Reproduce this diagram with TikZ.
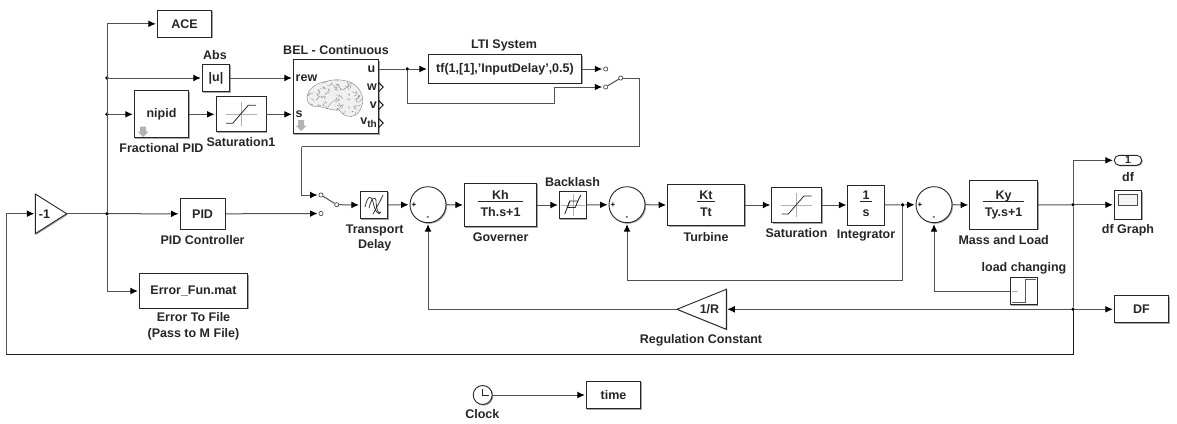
\documentclass[tikz,border=0pt]{standalone}
\usepackage{fontspec}
\setmainfont{Liberation Sans}
\usetikzlibrary{arrows.meta,shadows,calc}
\tikzset{
  txt/.style={font=\fontsize{12.5}{15}\selectfont\bfseries,text=black!85},
  blk/.style={draw=black!85,line width=.9pt,fill=white,inner sep=0pt,txt,
    general shadow={fill=black!35,shadow xshift=1.1pt,shadow yshift=-1.1pt}},
  lbl/.style={inner sep=0pt,align=center,txt},
  sumb/.style={blk,circle,minimum size=36pt},
  triline/.style={draw=black!85,line width=.9pt,fill=white,line join=miter},
  trishadow/.style={fill=black!35,draw=none},
  dotj/.style={circle,fill=black,inner sep=0pt,minimum size=3.8pt},
  port/.style={circle,draw=black!70,fill=white,inner sep=0pt,minimum size=4.2pt,line width=.7pt},
  conn/.style={draw=black!68,line width=1pt},
  ar/.style={conn,-{Latex[length=7.5pt,width=6.8pt,black]},shorten >=1pt},
  grayx/.style={draw=black!30,line width=.6pt},
  icon/.style={draw=black!85,line width=.8pt},
  sgn/.style={inner sep=0pt,font=\fontsize{8}{8}\selectfont\bfseries},
  grayarrow/.style={fill=black!30,draw=none}
}
\newcommand{\frc}[2]{\begin{tabular}{@{\,}c@{\,}}\rule{0pt}{10pt}#1\\[-2.5pt]\hline\rule{0pt}{15pt}#2\end{tabular}}
\begin{document}
\begin{tikzpicture}[x=1pt,y=-1pt]
\useasboundingbox[fill=white] (0,0) rectangle (1177,423);

% blocks
\node[blk,minimum width=54.4pt,minimum height=27pt] (ace) at (184.5,23.8) {ACE};
\node[blk,minimum width=27.5pt,minimum height=27.5pt] (absb) at (216,78) {|u|};
\node[blk,minimum width=54.5pt,minimum height=47pt] (nip) at (161.5,114.3) {nipid};
\node[blk,minimum width=50pt,minimum height=35pt] (sat1) at (241,114.3) {};
\node[blk,minimum width=85.5pt,minimum height=74pt] (bel) at (336,96.5) {};
\node[blk,minimum width=153.4pt,minimum height=28.7pt] (lti) at (505,69) {tf(1,[1],'InputDelay',0.5)};
\fill[trishadow] (36.4,195.1) -- (67.8,214.8) -- (36.4,234.8) -- cycle;
\draw[triline] (35.3,194) -- (66.7,213.7) -- (35.3,233.7) -- cycle;
\coordinate (gainin) at (35.3,213.7);
\coordinate (gainout) at (66.7,213.7);
\node[lbl] (gaint) at (44.5,214) {-1};
\node[blk,minimum width=45.3pt,minimum height=31pt] (pid) at (202.6,213.8) {PID};
\node[blk,minimum width=108.4pt,minimum height=34.6pt] (err) at (193.5,291) {Error\_Fun.mat};
\node[blk,minimum width=27.3pt,minimum height=27.3pt] (td) at (374,205) {};
\node[sumb] (sum1) at (428,204.7) {};
\node[blk,minimum width=72.4pt,minimum height=43.4pt] (gov) at (500.5,205) {\frc{Kh}{Th.s+1}};
\node[blk,minimum width=27pt,minimum height=27.3pt] (back) at (572.8,205) {};
\node[sumb] (sum2) at (627,204.7) {};
\node[blk,minimum width=77pt,minimum height=41.4pt] (turb) at (706,205) {\frc{Kt}{Tt}};
\node[blk,minimum width=49.7pt,minimum height=35pt] (sat) at (796.6,205) {};
\node[blk,minimum width=36.3pt,minimum height=40pt] (intg) at (866,205) {\frc{1}{s}};
\node[sumb] (sum3) at (934,204.7) {};
\node[blk,minimum width=68pt,minimum height=48.6pt] (mass) at (1003.6,205) {\frc{Ky}{Ty.s+1}};
\node[blk,rounded corners=5pt,minimum width=27.4pt,minimum height=10pt,font=\fontsize{10.5}{10.5}\selectfont\bfseries] (dfout) at (1128,160.3) {1};
\node[blk,minimum width=27.4pt,minimum height=28.3pt] (scope) at (1128,204.8) {};
\node[blk,minimum width=54.4pt,minimum height=27pt] (dfb) at (1141.5,309.3) {DF};
\node[blk,minimum width=27pt,minimum height=27.4pt] (stepb) at (1023.8,291) {};
\fill[trishadow] (678.1,310.4) -- (727.4,290.4) -- (727.4,330.4) -- cycle;
\draw[triline] (677,309.3) -- (726.3,289.3) -- (726.3,329.3) -- cycle;
\coordinate (regin) at (726.3,309.3);
\coordinate (regout) at (677,309.3);
\node[lbl] (regt) at (709.5,309.3) {1/R};
\node[blk,circle,minimum size=19pt] (clk) at (482.7,395) {};
\node[blk,minimum width=54.4pt,minimum height=27.4pt] (timeb) at (613.5,395) {time};

% labels
\node[lbl] at (215,55.5) {Abs};
\node[lbl] at (336,50) {BEL - Continuous};
\node[lbl] at (161.5,148.5) {Fractional PID};
\node[lbl] at (241,142.5) {Saturation1};
\node[lbl] at (504,45.5) {LTI System};
\node[lbl] at (202.6,240) {PID Controller};
\node[lbl] at (193.5,326.5) {Error To File\\[.7pt](Pass to M File)};
\node[lbl] at (374.7,237.5) {Transport\\Delay};
\node[lbl] at (500.6,237.5) {Governer};
\node[lbl] at (572.5,182) {Backlash};
\node[lbl] at (706,236.7) {Turbine};
\node[lbl] at (796.5,232.7) {Saturation};
\node[lbl] at (866,235.7) {Integrator};
\node[lbl] at (1003.7,240) {Mass and Load};
\node[lbl] at (1024,268) {load changing};
\node[lbl] at (1128,176.7) {df};
\node[lbl] at (1128,230) {df Graph};
\node[lbl] at (701,340) {Regulation Constant};
\node[lbl] at (482.3,414.5) {Clock};

% BEL ports
\node[lbl,anchor=west] (prew) at (295.5,78) {rew};
\node[lbl,anchor=west] (ps) at (295.5,114.3) {s};
\node[lbl,anchor=east] (pu) at (375.5,69) {u};
\node[lbl,anchor=east] (pw) at (377,87) {w};
\node[lbl,anchor=east] (pv) at (377,105) {v};
\node[lbl,anchor=east] (pvth) at (377,122.5) {v\raisebox{-3.5pt}{\fontsize{10}{10}\selectfont th}};
\foreach \yy in {87,105,123}
  \draw[black!90,line width=1pt] (378.7,\yy-4.5) -- (383.2,\yy) -- (378.7,\yy+4.5);

% brain
\begin{scope}
\path[fill=black!6,draw=black!50,line width=.4pt,save path=\brainp]
  (307,97) .. controls (308,89) and (316,83) .. (326,81.5)
  .. controls (337,78) and (351,80) .. (357,87)
  .. controls (363,93) and (364.5,102) .. (361,108)
  .. controls (359,114) and (353,118) .. (347,116)
  .. controls (343,115) and (341,112) .. (339,110)
  .. controls (331,111) and (322,106) .. (316,106.5)
  .. controls (310,106.5) and (306.5,102) .. (307,97) -- cycle;
\clip[use path=\brainp];
\pgfmathsetseed{11}
\foreach \i in {1,...,90}{
  \pgfmathsetmacro{\px}{307+rnd*56}
  \pgfmathsetmacro{\py}{80+rnd*37}
  \pgfmathsetmacro{\qa}{(rnd-.5)*8}
  \pgfmathsetmacro{\qb}{(rnd-.5)*8}
  \pgfmathsetmacro{\qc}{(rnd-.5)*8}
  \pgfmathsetmacro{\qd}{(rnd-.5)*8}
  \draw[black!42,line width=.4pt] (\px,\py) .. controls (\px+\qa,\py+\qb) and (\px+\qc,\py+\qd) .. (\px+\qb,\py+\qc);
}
\end{scope}

% gray library arrows
\fill[grayarrow] (140,126.5) -- (146,126.5) -- (146,131.5) -- (148.5,131.5) -- (143,137) -- (137.5,131.5) -- (140,131.5) -- cycle;
\fill[grayarrow] (298,120) -- (304,120) -- (304,125.5) -- (306.5,125.5) -- (301,131) -- (295.5,125.5) -- (298,125.5) -- cycle;

% saturation icons
\foreach \n in {sat1,sat}{
\begin{scope}[shift={(\n.center)}]
  \draw[grayx] (-15.5,0) -- (15.5,0) (0,-12) -- (0,12);
  \draw[icon] (-15,9) -- (-8.3,9) -- (7.3,-9) -- (15,-9);
\end{scope}}
% transport delay icon
\begin{scope}[shift={(td.center)}]
  \draw[icon,line width=.7pt] (-9,2) .. controls (-6,-10) and (-3,-10) .. (-1,-3) .. controls (1,5) and (3,11) .. (7,7);
  \draw[icon,line width=.7pt] (-5,3) .. controls (-2,-9) and (1,-8) .. (2,-5) .. controls (2,1) and (3,7) .. (6,9);
  \draw[icon,line width=.7pt] (-1,9) .. controls (1,5) and (6,-3) .. (9,-10);
\end{scope}
% backlash icon
\begin{scope}[shift={(back.center)}]
  \draw[grayx] (-12,0) -- (12,0) (0,-11) -- (0,11);
  \draw[icon] (-8,9) -- (-3,-4) -- (5,-4) -- (8,-10);
  \draw[icon] (-3,-4) -- (-5.5,2.5) -- (2.5,2.5) -- (5,-4);
\end{scope}
% scope screen
\draw[black!70,fill=black!4,line width=.8pt] ($(scope.center)+(-9.7,-10.5)$) rectangle ($(scope.center)+(9.7,.5)$);
% step icon
\begin{scope}[shift={(stepb.center)}]
  \draw[grayx] (-12,0) -- (-6,0);
  \draw[black!65,line width=1pt] (-11.5,11) -- (2,11) -- (2,-12) -- (12.5,-12);
\end{scope}
% clock hands
\draw[black!85,line width=.7pt] ($(clk.center)+(0,-6.5)$) -- (clk.center) -- ($(clk.center)+(6,0)$);

% sum signs
\foreach \n in {sum1,sum2,sum3}{
  \node[sgn] at ($(\n.center)+(-14,0)$) {+};
  \node[sgn] at ($(\n.center)+(0,14)$) {-};
}

% junctions
\node[dotj] (jm) at (107,213.7) {};
\node[dotj] (jabs) at (107,78) {};
\node[dotj] (jnip) at (107,114.3) {};
\node[dotj] (jbel) at (407.3,69) {};
\node[dotj] (jint) at (902.7,204.9) {};
\node[dotj] (jk) at (1073,204.8) {};
\node[dotj] (jd) at (1073,309.3) {};
\coordinate (c1) at (407.3,103.3);
\coordinate (c2) at (554,103.3);
\coordinate (c3) at (554,87);
\coordinate (c4) at (639.7,78);
\coordinate (c5) at (639.7,146.7);
\coordinate (c6) at (301.7,146.7);
\coordinate (c7) at (902.7,280);
\coordinate (fbb) at (1073,354);
\coordinate (fbc) at (6,354);

% switches
\node[port] (swa) at (605.7,69) {};
\node[port] (swb) at (605.7,87) {};
\node[port] (swo) at (620.7,78) {};
\node[port] (twa) at (321,195) {};
\node[port] (twb) at (321,213.5) {};
\node[port] (two) at (336.7,204.7) {};
\draw[conn] (swb) -- (swo);
\draw[conn] (twa) -- (two);

% connectors
\draw[conn] (gainout) -- (jm);
\draw[ar] (jm) -- (pid.west);
\draw[ar] (jm) |- (ace.west);
\draw[ar] (jm) |- (err.west);
\draw[ar] (jabs) -- (absb.west);
\draw[ar] (jnip) -- (nip.west);
\draw[ar] (absb.east) -- (absb.east -| bel.west);
\draw[ar] (nip.east) -- (sat1.west);
\draw[ar] (sat1.east) -- (sat1.east -| bel.west);
\draw[conn] (bel.east |- jbel) -- (jbel);
\draw[ar] (jbel) -- (lti.west);
\draw[ar] (jbel) -- (c1) -- (c2) -- (c3) -- (swb.west);
\draw[ar] (lti.east) -- (swa.west);
\draw[conn] (swo.east) -- (c4) -- (c5) -- (c6);
\draw[ar] (c6) |- (twa.west);
\draw[ar] (pid.east) -- (twb.west);
\draw[ar] (two.east) -- (td.west);
\draw[ar] (td.east) -- (sum1.west);
\draw[ar] (sum1.east) -- (gov.west);
\draw[ar] (gov.east) -- (back.west);
\draw[ar] (back.east) -- (sum2.west);
\draw[ar] (sum2.east) -- (turb.west);
\draw[ar] (turb.east) -- (sat.west);
\draw[ar] (sat.east) -- (intg.west);
\draw[conn] (intg.east) -- (jint);
\draw[ar] (jint) -- (sum3.west);
\draw[ar] (jint) -- (c7) -| (sum2.south);
\draw[ar] (sum3.east) -- (mass.west);
\draw[conn] (mass.east) -- (jk);
\draw[ar] (jk) -- (scope.west);
\draw[ar] (jk) |- (dfout.west);
\draw[conn] (jk) -- (jd);
\draw[ar] (jd) -- (dfb.west);
\draw[ar] (jd) -- (regin);
\draw[ar] (regout) -| (sum1.south);
\draw[ar] (stepb.west) -| (sum3.south);
\draw[conn,draw=black!90] (jd) -- (fbb) -- (fbc);
\draw[ar] (fbc) |- (gainin);
\draw[ar] (clk.east) -- (timeb.west);
\end{tikzpicture}
\end{document}
